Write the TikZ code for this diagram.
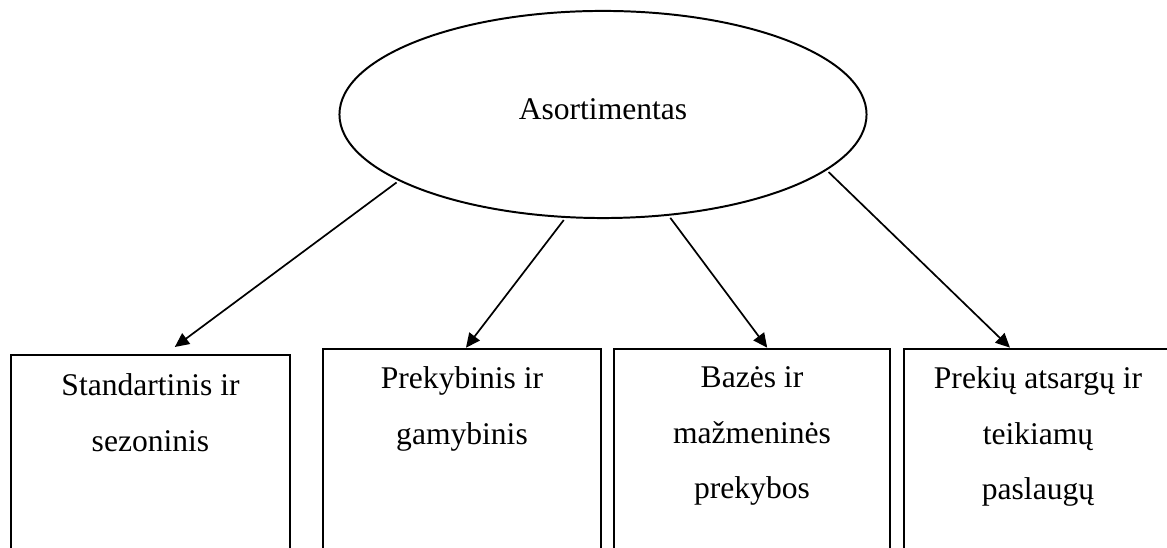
\documentclass[tikz,border=0pt]{standalone}
\usepackage{fontspec}
\setmainfont{Liberation Serif}
\usepackage{tikz}
\usetikzlibrary{calc,arrows.meta,shapes.geometric}
\tikzset{
  line/.style={draw=black, line width=0.75pt},
  arr/.style={draw=black, line width=0.65pt, -{Triangle[length=5.4pt,width=5pt]}, shorten <=1pt},
  oval/.style={ellipse, line, minimum width=200.3pt, minimum height=78.7pt, inner sep=0pt},
  box/.style={rectangle, line, anchor=north, minimum width=106pt, minimum height=95pt, inner sep=0pt},
  lbl/.style={text=black, font=\fontsize{12pt}{21pt}\selectfont, align=center, inner sep=0pt}
}

\begin{document}
\begin{tikzpicture}[x=0.38pt, y=-0.38pt]
  \useasboundingbox (0,0) rectangle (1167,548);
  \clip (0,0) rectangle (1167,548);

  \node[oval] (root) at (603,114.5) {};
  \node[lbl, anchor=base] (rootlbl) at (603,120) {Asortimentas};

  \node[box] (b1) at (150.8,354) {};
  \node[box] (b2) at (462,347.7) {};
  \node[box, minimum width=104.9pt] (b3) at (752.2,347.7) {};
  \node[box] (b4) at (1043.5,347.7) {};

  % first baselines sit about 41px under the box tops
  \node[lbl, anchor=north] (t1) at (150.5,373.5) {Standartinis ir\\sezoninis};
  \node[lbl, anchor=north] (t2) at (462,366.5) {Prekybinis ir\\gamybinis};
  \node[lbl, anchor=north] (t3) at (752,366.5) {Bazės ir\\mažmeninės\\prekybos};
  \node[lbl, anchor=north] (t4) at (1038,366.5) {Prekių atsargų ir\\teikiamų\\paslaugų};

  \draw[arr] (root.198.6) -- ($(b1.north)+(24,-7)$);
  \draw[arr] (root.250) -- ($(b2.north)+(4,0)$);
  \draw[arr] (root.303.7) -- ($(b3.north)+(15,0)$);
  \draw[arr] (root.346.9) -- ($(b4.north)+(-33.5,0)$);
\end{tikzpicture}
\end{document}
